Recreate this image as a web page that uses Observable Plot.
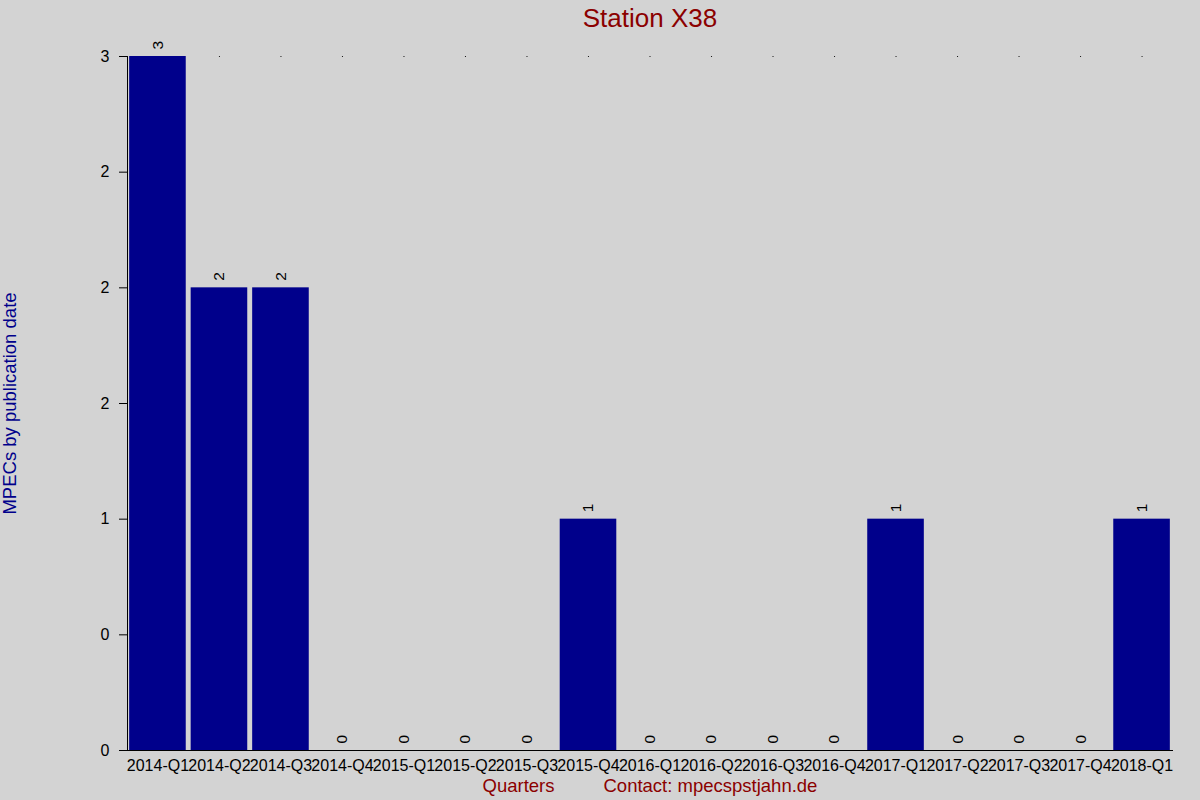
<!DOCTYPE html>
<html>
<head>
<meta charset="utf-8">
<script src="https://cdn.jsdelivr.net/npm/d3@7"></script>
<script src="https://cdn.jsdelivr.net/npm/@observablehq/plot@0.6"></script>
<style>
  html, body { margin: 0; padding: 0; background: #d3d3d3; }
  #chart { width: 1200px; height: 800px; }
  svg { font-family: "Liberation Sans", Arial, sans-serif; }
</style>
</head>
<body>
<div id="chart"></div>
<script>
const quarters = ["2014-Q1","2014-Q2","2014-Q3","2014-Q4","2015-Q1","2015-Q2","2015-Q3","2015-Q4",
  "2016-Q1","2016-Q2","2016-Q3","2016-Q4","2017-Q1","2017-Q2","2017-Q3","2017-Q4","2018-Q1"];
const counts = [3,2,2,0,0,0,0,1,0,0,0,0,1,0,0,0,1];
const yTicks = [0,0.5,1,1.5,2,2.5,3];
const yTickLabels = ["0","0","1","2","2","2","3"];
const titleText = "Station X38";
const yLabelText = "MPECs by publication date";
const xLabelText = "Quarters";
const contactText = "Contact: mpecspstjahn.de";

const data = quarters.map((q, i) => ({quarter: q, count: counts[i]}));

const chart = Plot.plot({
  width: 1200,
  height: 800,
  marginTop: 56,
  marginBottom: 50,
  marginLeft: 127,
  marginRight: 28,
  style: {background: "#d3d3d3", fontSize: "16px", fontFamily: "Liberation Sans, Arial, sans-serif", color: "#000"},
  x: {domain: quarters, paddingInner: 0.08, paddingOuter: 0.035, round: false},
  y: {domain: [0, 3]},
  marks: [
    Plot.dot(data, {x: "quarter", y: () => 3, r: 0.6, fill: "#000", stroke: null}),
    Plot.barY(data, {x: "quarter", y: "count", fill: "#00008b"}),
    Plot.text(data, {x: "quarter", y: "count", text: d => String(d.count), rotate: -90,
      textAnchor: "start", lineAnchor: "middle", dy: -7, fontSize: 15.5, fill: "#000"}),
    Plot.axisY({ticks: yTicks, tickFormat: (d) => yTickLabels[yTicks.indexOf(d)], tickSize: 8, tickPadding: 10,
      fontSize: 16, label: null, stroke: "#000"}),
    Plot.axisX({tickSize: 0, tickPadding: 9, fontSize: 16, label: null}),
    Plot.frame({anchor: "left", stroke: "#000"}),
    Plot.frame({anchor: "bottom", stroke: "#000"}),
    Plot.text([titleText], {frameAnchor: "top", text: d => d, dy: -38, fontSize: 26, fill: "#8b0000", textAnchor: "middle", lineAnchor: "middle"}),
    Plot.text([yLabelText], {frameAnchor: "left", text: d => d, dx: -117, rotate: -90, fontSize: 18.5, fill: "#00008b", textAnchor: "middle", lineAnchor: "middle"}),
    Plot.text([xLabelText], {frameAnchor: "bottom-left", text: d => d, dx: 355, dy: 36, fontSize: 18.5, fill: "#8b0000", textAnchor: "start", lineAnchor: "middle"}),
    Plot.text([contactText], {frameAnchor: "bottom-left", text: d => d, dx: 476, dy: 36, fontSize: 18.5, fill: "#8b0000", textAnchor: "start", lineAnchor: "middle"})
  ]
});
document.getElementById("chart").appendChild(chart);
</script>
</body>
</html>
